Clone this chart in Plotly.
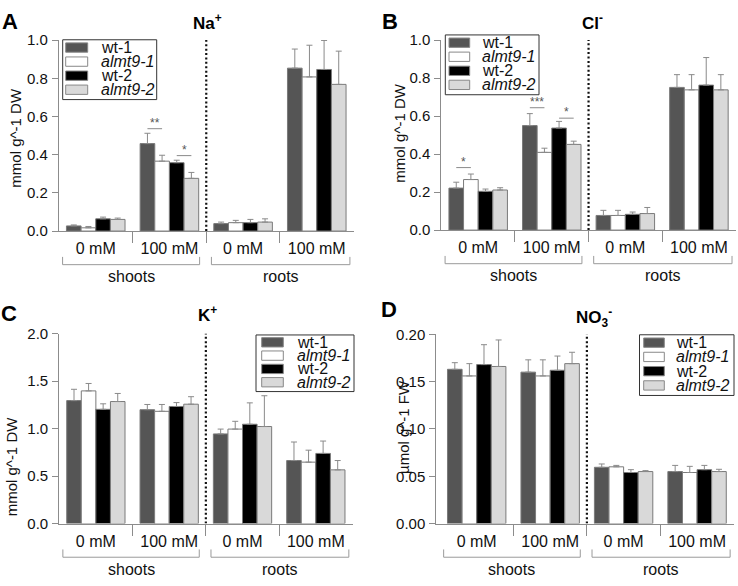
import plotly.graph_objects as go

W, H = 738, 586
FONT = "Arial, Liberation Sans, sans-serif"

# ---------------- data ----------------
genotypes = ["wt-1", "almt9-1", "wt-2", "almt9-2"]
genotype_labels = ["wt-1", "<i>almt9-1</i>", "wt-2", "<i>almt9-2</i>"]
colors = ["#555555", "#ffffff", "#000000", "#d9d9d9"]
group_pos = [0, 1, 2, 3]
group_labels = ["0 mM", "100 mM", "0 mM", "100 mM"]
tissues = ["shoots", "roots"]

# Na+ (mmol g^-1 DW)
na_wt1 = [0.027, 0.458, 0.039, 0.853]
na_al1 = [0.017, 0.366, 0.044, 0.807]
na_wt2 = [0.064, 0.358, 0.044, 0.846]
na_al2 = [0.061, 0.276, 0.047, 0.768]
na_wt1_err = [0.005, 0.054, 0.008, 0.100]
na_al1_err = [0.007, 0.031, 0.012, 0.166]
na_wt2_err = [0.009, 0.013, 0.017, 0.152]
na_al2_err = [0.007, 0.031, 0.017, 0.174]

# Cl- (mmol g^-1 DW)
cl_wt1 = [0.221, 0.550, 0.077, 0.751]
cl_al1 = [0.266, 0.409, 0.077, 0.738]
cl_wt2 = [0.204, 0.537, 0.083, 0.763]
cl_al2 = [0.211, 0.451, 0.087, 0.738]
cl_wt1_err = [0.031, 0.063, 0.027, 0.067]
cl_al1_err = [0.029, 0.022, 0.027, 0.080]
cl_wt2_err = [0.012, 0.035, 0.012, 0.145]
cl_al2_err = [0.012, 0.017, 0.032, 0.080]

# K+ (mmol g^-1 DW)
k_wt1 = [1.295, 1.199, 0.944, 0.664]
k_al1 = [1.397, 1.182, 0.995, 0.647]
k_wt2 = [1.203, 1.233, 1.046, 0.739]
k_al2 = [1.285, 1.257, 1.022, 0.566]
k_wt1_err = [0.119, 0.055, 0.051, 0.195]
k_al1_err = [0.078, 0.072, 0.082, 0.126]
k_wt2_err = [0.058, 0.041, 0.225, 0.130]
k_al2_err = [0.085, 0.079, 0.324, 0.098]

# NO3- (umol g^-1 FW)
no3_wt1 = [0.163, 0.160, 0.0595, 0.055]
no3_al1 = [0.156, 0.156, 0.060, 0.054]
no3_wt2 = [0.168, 0.162, 0.054, 0.057]
no3_al2 = [0.166, 0.169, 0.055, 0.055]
no3_wt1_err = [0.007, 0.013, 0.0035, 0.0065]
no3_al1_err = [0.013, 0.017, 0.0015, 0.0065]
no3_wt2_err = [0.021, 0.015, 0.003, 0.0045]
no3_al2_err = [0.028, 0.012, 0.001, 0.0024]

# significance marks: (group index, first genotype, second genotype, y level, label)
na_sig = [(1, 0, 1, 0.536, "**"), (1, 2, 3, 0.395, "*")]
cl_sig = [(0, 0, 1, 0.329, "*"), (1, 0, 1, 0.644, "***"), (1, 2, 3, 0.589, "*")]

# ---------------- layout geometry (pixels) ----------------
panels = [
    dict(letter="A", title="Na<sup>+</sup>", ytitle="mmol g^-1 DW",
         vals=[na_wt1, na_al1, na_wt2, na_al2],
         errs=[na_wt1_err, na_al1_err, na_wt2_err, na_al2_err], sig=na_sig,
         xpx=(58.9, 353.6), xr=(-0.5, 3.5), ypx=(32, 228.7), yr=(0, 1.0), dtick=0.2, fmt=".1f",
         letter_xy=(10, 13), title_xy=(208, 13), ytitle_xy=(15.5, 133),
         legend=(62.7, 31.7, 156.7, 93.3), sw=(65.7, 87.7), tx=99),
    dict(letter="B", title="Cl<sup>-</sup>", ytitle="mmol g^-1 DW",
         vals=[cl_wt1, cl_al1, cl_wt2, cl_al2],
         errs=[cl_wt1_err, cl_al1_err, cl_wt2_err, cl_al2_err], sig=cl_sig,
         xpx=(441.4, 735.7), xr=(-0.5, 3.5), ypx=(32, 227.7), yr=(0, 1.0), dtick=0.2, fmt=".1f",
         letter_xy=(390, 13), title_xy=(592, 13), ytitle_xy=(399.5, 128),
         legend=(445.3, 26.7, 539, 88.3), sw=(449, 469.7), tx=479.7),
    dict(letter="C", title="K<sup>+</sup>", ytitle="mmol g^-1 DW",
         vals=[k_wt1, k_al1, k_wt2, k_al2],
         errs=[k_wt1_err, k_al1_err, k_wt2_err, k_al2_err], sig=[],
         xpx=(59.2, 352.5), xr=(-0.5, 3.5), ypx=(334.3, 530), yr=(0, 2.0), dtick=0.5, fmt=".1f",
         letter_xy=(9, 314), title_xy=(207, 314), ytitle_xy=(11, 471),
         legend=(256, 335.7, 354, 394), sw=(261.7, 283.3), tx=295),
    dict(letter="D", title="NO<sub>3</sub><sup>-</sup>", ytitle="µmol g^-1 FW",
         vals=[no3_wt1, no3_al1, no3_wt2, no3_al2],
         errs=[no3_wt1_err, no3_al1_err, no3_wt2_err, no3_al2_err], sig=[],
         xpx=(436.3, 733.8), xr=(-0.55, 3.5), ypx=(335, 530), yr=(0, 0.2), dtick=0.05, fmt=".2f",
         letter_xy=(389, 309), title_xy=(594, 318), ytitle_xy=(403, 430.5),
         legend=(639.5, 335.5, 734, 398), sw=(643.7, 664.3), tx=674.3),
]

def PX(x):
    return x / W

def PY(y):
    return 1 - y / H

BARGAP = 0.205
bar_w = (1 - BARGAP) / 4
bar_off = [(-1.5 + i) * bar_w for i in range(4)]

AX_COL = "#8c8c8c"
TXT_COL = "#111111"

fig = go.Figure()
shapes = []
annotations = []
layout_axes = {}

for p_i, p in enumerate(panels):
    n = "" if p_i == 0 else str(p_i + 1)
    xa, ya = "x" + n, "y" + n
    for g_i in range(4):
        fig.add_trace(go.Bar(
            x=group_pos, y=p["vals"][g_i], name=genotypes[g_i],
            xaxis=xa, yaxis=ya, showlegend=False,
            marker=dict(color=colors[g_i], line=dict(color="#7a7a7a", width=1)),
            error_y=dict(type="data", symmetric=False, array=p["errs"][g_i],
                         arrayminus=[0] * 4, color="#8a8a8a", thickness=1, width=3),
        ))
    layout_axes["xaxis" + n] = dict(
        domain=[PX(p["xpx"][0]), PX(p["xpx"][1])], range=list(p["xr"]), anchor=ya,
        showline=True, linecolor=AX_COL, linewidth=1, showgrid=False, zeroline=False,
        tickmode="array", tickvals=group_pos, ticktext=group_labels, ticks="",
        tickfont=dict(family=FONT, size=16, color=TXT_COL), ticklabelstandoff=3,
        minor=dict(tickmode="array", tickvals=[0.5, 1.5, 2.5], ticks="outside",
                   ticklen=11, tickcolor=AX_COL, tickwidth=1, showgrid=False),
        fixedrange=True,
    )
    layout_axes["yaxis" + n] = dict(
        domain=[PY(p["ypx"][1]), PY(p["ypx"][0])], range=list(p["yr"]), anchor=xa,
        showline=True, linecolor=AX_COL, linewidth=1, showgrid=False, zeroline=False,
        dtick=p["dtick"], tick0=0, tickformat=p["fmt"], ticks="outside", ticklen=6,
        tickcolor=AX_COL, tickfont=dict(family=FONT, size=15, color=TXT_COL),
        ticklabelstandoff=1, fixedrange=True,
    )
    # dotted separator between shoots and roots
    shapes.append(dict(type="line", xref=xa, yref=ya, x0=1.5, x1=1.5, y0=0, y1=p["yr"][1],
                       line=dict(color="#111111", width=2.2, dash="2px,2.4px")))
    # brackets below the axis
    yb = p["ypx"][1] + 34.6
    for (x0, x1), lab in zip([(-0.45, 1.41), (1.57, 3.45)], tissues):
        shapes.append(dict(type="path", xref=xa, yref="paper",
                           path=f"M {x0},{PY(yb - 8)} L {x0},{PY(yb)} L {x1},{PY(yb)} L {x1},{PY(yb - 8)}",
                           line=dict(color="#9a9a9a", width=1)))
        annotations.append(dict(text=lab, xref=xa, yref="paper", x=(x0 + x1) / 2, y=PY(yb + 12.5),
                                showarrow=False, xanchor="center", yanchor="middle",
                                font=dict(family=FONT, size=16, color=TXT_COL)))
    # significance marks
    for g, a, b, yv, lab in p["sig"]:
        shapes.append(dict(type="line", xref=xa, yref=ya, x0=g + bar_off[a], x1=g + bar_off[b],
                           y0=yv, y1=yv, line=dict(color="#8a8a8a", width=1)))
        annotations.append(dict(text=lab, xref=xa, yref=ya, x=g + (bar_off[a] + bar_off[b]) / 2, y=yv,
                                showarrow=False, xanchor="center", yanchor="bottom", yshift=-3,
                                font=dict(family=FONT, size=12, color="#555555")))
    # panel letter, title, y-axis title
    annotations.append(dict(text=f"<b>{p['letter']}</b>", xref="paper", yref="paper",
                            x=PX(p["letter_xy"][0]), y=PY(p["letter_xy"][1]), showarrow=False,
                            xanchor="center", yanchor="middle",
                            font=dict(family=FONT, size=22, color="#000000")))
    annotations.append(dict(text=f"<b>{p['title']}</b>", xref="paper", yref="paper",
                            x=PX(p["title_xy"][0]), y=PY(p["title_xy"][1]), showarrow=False,
                            xanchor="center", yanchor="middle",
                            font=dict(family=FONT, size=17, color="#000000")))
    annotations.append(dict(text=p["ytitle"], xref="paper", yref="paper", textangle=-90,
                            x=PX(p["ytitle_xy"][0]), y=PY(p["ytitle_xy"][1]), showarrow=False,
                            xanchor="center", yanchor="middle",
                            font=dict(family=FONT, size=15, color=TXT_COL)))
    # legend box
    lx0, ly0, lx1, ly1 = p["legend"]
    shapes.append(dict(type="rect", xref="paper", yref="paper", x0=PX(lx0), x1=PX(lx1),
                       y0=PY(ly1), y1=PY(ly0), line=dict(color="#333333", width=1),
                       fillcolor="white", layer="above"))
    lh = ly1 - ly0
    for g_i in range(4):
        cy = ly0 + lh * (0.13 + 0.235 * g_i)
        shapes.append(dict(type="rect", xref="paper", yref="paper", x0=PX(p["sw"][0]), x1=PX(p["sw"][1]),
                           y0=PY(cy + 4.8), y1=PY(cy - 4.8), line=dict(color="#888888", width=1),
                           fillcolor=colors[g_i], layer="above"))
        annotations.append(dict(text=genotype_labels[g_i], xref="paper", yref="paper",
                                x=PX(p["tx"]), y=PY(cy), showarrow=False, xanchor="left",
                                yanchor="middle", font=dict(family=FONT, size=16, color=TXT_COL)))

fig.update_layout(
    width=W, height=H, autosize=False,
    margin=dict(l=0, r=0, t=0, b=0),
    paper_bgcolor="white", plot_bgcolor="white",
    barmode="group", bargap=BARGAP, bargroupgap=0,
    showlegend=False, shapes=shapes, annotations=annotations,
    font=dict(family=FONT, color=TXT_COL),
    **layout_axes,
)

fig.write_html("out.html", config={"displayModeBar": False},
               post_script="document.body.style.margin='0';document.body.style.overflow='hidden';")
